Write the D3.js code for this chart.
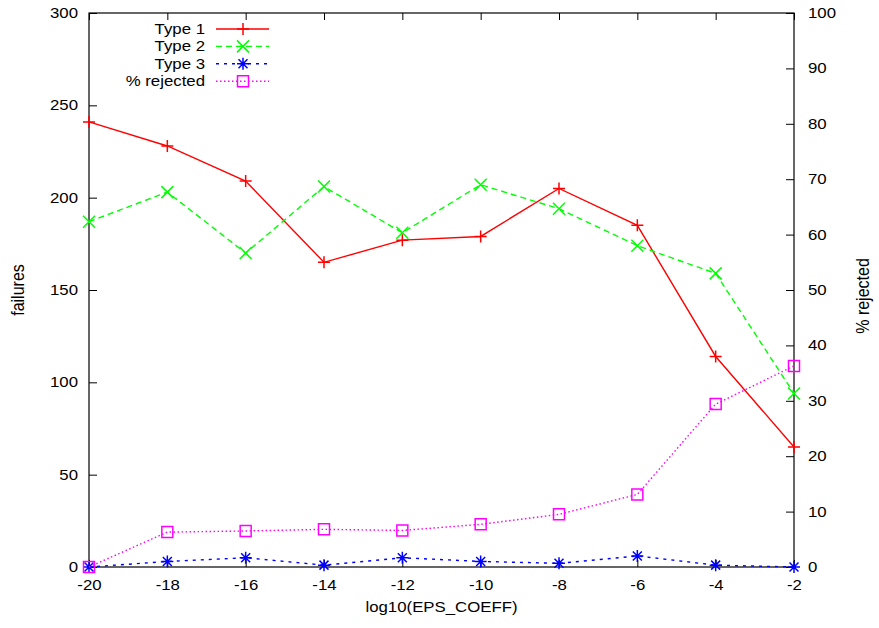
<!DOCTYPE html>
<html>
<head>
<meta charset="utf-8">
<script src="https://cdn.jsdelivr.net/npm/d3@7"></script>
<style>
  body { margin: 0; background: #fff; }
  svg { display: block; font-family: "Liberation Sans", Arial, sans-serif; }
</style>
</head>
<body>
<svg width="879" height="628"></svg>
<script>
// data
const epsValues = [-20, -18, -16, -14, -12, -10, -8, -6, -4, -2];
const type1 = [241, 228, 209, 165, 177, 179, 205, 185, 114, 65];
const type2 = [187, 203, 170, 206, 181, 207, 194, 174, 159, 94];
const type3 = [0, 3, 5, 1, 5, 3, 2, 6, 1, 0];
const rejected = [0, 6.3, 6.5, 6.8, 6.6, 7.7, 9.5, 13.1, 29.4, 36.3];
const yTicks = [0, 50, 100, 150, 200, 250, 300];
const y2Ticks = [0, 10, 20, 30, 40, 50, 60, 70, 80, 90, 100];

const svg = d3.select("svg"),
    width = +svg.attr("width"),
    height = +svg.attr("height"),
    marginLeft = 89,
    marginRight = 85,
    marginTop = 13,
    marginBottom = 61;

const plotW = width - marginLeft - marginRight,
    plotH = height - marginTop - marginBottom;

const stretch = "scale(1.2,1)";
const plain = d => String(d); // hyphen minus like gnuplot

let scaleX = d3.scaleLinear().domain([-20, -2]).range([0, plotW]);
let scaleY = d3.scaleLinear().domain([0, 300]).range([plotH, 0]);
let scaleY2 = d3.scaleLinear().domain([0, 100]).range([plotH, 0]);

const g = svg.append("g")
    .attr("transform", `translate(${marginLeft}, ${marginTop})`);

// axes (ticks pointing inwards, like gnuplot)
g.append("g")
    .attr("transform", `translate(0, ${plotH})`)
    .call(d3.axisBottom(scaleX).tickValues(epsValues).tickFormat(plain).tickSizeInner(-7).tickSizeOuter(0).tickPadding(13))
    .call(a => a.select(".domain").remove())
    .selectAll("text")
    .attr("transform", stretch);

g.append("g")
    .call(d3.axisTop(scaleX).tickValues(epsValues).tickSizeInner(-7).tickSizeOuter(0).tickFormat(""))
    .call(a => a.select(".domain").remove());

g.append("g")
    .call(d3.axisLeft(scaleY).tickValues(yTicks).tickFormat(plain).tickSizeInner(-8).tickSizeOuter(0))
    .call(a => a.select(".domain").remove())
    .selectAll("text")
    .attr("x", -11 / 1.2)
    .attr("transform", stretch);

g.append("g")
    .attr("transform", `translate(${plotW}, 0)`)
    .call(d3.axisRight(scaleY2).tickValues(y2Ticks).tickFormat(plain).tickSizeInner(-8).tickSizeOuter(0))
    .call(a => a.select(".domain").remove())
    .selectAll("text")
    .attr("x", 14 / 1.2)
    .attr("transform", stretch);

svg.selectAll(".tick text").attr("font-size", 14).attr("fill", "#000").attr("font-family", null);
svg.selectAll(".tick line").attr("stroke", "#000");

g.append("rect")
    .attr("width", plotW)
    .attr("height", plotH)
    .attr("fill", "none")
    .attr("stroke", "#000")
    .attr("stroke-width", 1.2);

// axis titles
svg.append("text")
    .attr("transform", `translate(${marginLeft + plotW / 2}, 612) ${stretch}`)
    .attr("text-anchor", "middle")
    .attr("font-size", 14)
    .text("log10(EPS_COEFF)");

svg.append("text")
    .attr("transform", `translate(24, ${marginTop + plotH / 2}) ${stretch} rotate(-90)`)
    .attr("text-anchor", "middle")
    .attr("font-size", 16)
    .text("failures");

svg.append("text")
    .attr("transform", `translate(869, ${marginTop + plotH / 2 + 6}) ${stretch} rotate(-90)`)
    .attr("text-anchor", "middle")
    .attr("font-size", 16)
    .text("% rejected");

// point markers
function markerPath(type) {
    const h = 6;
    const plus = `M${-h},0H${h}M0,${-h}V${h}`;
    const times = `M${-h},${-h}L${h},${h}M${-h},${h}L${h},${-h}`;
    if (type === "plus") return plus;
    if (type === "times") return times;
    if (type === "star") return plus + `M-4.5,-4.5L4.5,4.5M-4.5,4.5L4.5,-4.5`;
    return "M-5.5,-5.5H5.5V5.5H-5.5Z";
}

const series = [
    { name: "Type 1", values: type1, y: scaleY, color: "#ff0000", dash: null, marker: "plus" },
    { name: "Type 2", values: type2, y: scaleY, color: "#00ff00", dash: "6,4", marker: "times" },
    { name: "Type 3", values: type3, y: scaleY, color: "#0000ff", dash: "3,5", marker: "star" },
    { name: "% rejected", values: rejected, y: scaleY2, color: "#ff00ff", dash: "1.5,2.5", marker: "square" }
];

series.forEach(s => {
    let pts = epsValues.map((x, i) => [x, s.values[i]]);
    let line = d3.line()
        .x(d => scaleX(d[0]))
        .y(d => s.y(d[1]));

    g.append("path")
        .datum(pts)
        .attr("d", line)
        .attr("fill", "none")
        .attr("stroke", s.color)
        .attr("stroke-width", 1.4)
        .attr("stroke-dasharray", s.dash);

    g.selectAll(".pt-" + s.marker)
        .data(pts)
        .enter()
        .append("path")
        .attr("class", "pt-" + s.marker)
        .attr("transform", d => `translate(${scaleX(d[0])}, ${s.y(d[1])})`)
        .attr("d", markerPath(s.marker))
        .attr("fill", "none")
        .attr("stroke", s.color)
        .attr("stroke-width", 1.5);
});

// legend
const legend = svg.append("g");
series.forEach((s, i) => {
    let ly = 29 + i * 17.4;
    legend.append("text")
        .attr("transform", `translate(205, ${ly + 5}) ${stretch}`)
        .attr("text-anchor", "end")
        .attr("font-size", 14)
        .text(s.name);
    legend.append("line")
        .attr("x1", 216).attr("x2", 269)
        .attr("y1", ly).attr("y2", ly)
        .attr("stroke", s.color)
        .attr("stroke-width", 1.4)
        .attr("stroke-dasharray", s.dash);
    legend.append("path")
        .attr("transform", `translate(243, ${ly})`)
        .attr("d", markerPath(s.marker))
        .attr("fill", "none")
        .attr("stroke", s.color)
        .attr("stroke-width", 1.5);
});
</script>
</body>
</html>
